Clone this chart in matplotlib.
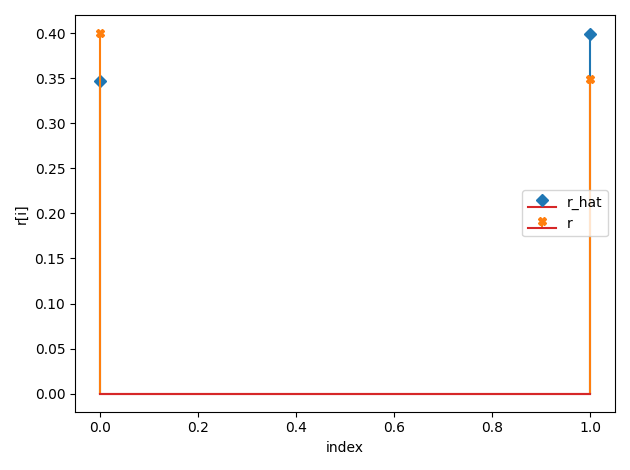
import matplotlib
matplotlib.use("Agg")
import matplotlib.pyplot as plt

index = [0, 1]
r_hat = [0.347, 0.399]
r = [0.400, 0.349]

fig, ax = plt.subplots(figsize=(6.3, 4.7), dpi=100)
m1, s1, b1 = ax.stem(index, r_hat, linefmt='C0-', markerfmt='D', basefmt='C3-', label='r_hat')
m2, s2, b2 = ax.stem(index, r, linefmt='C1-', markerfmt='X', basefmt='C3-', label='r')
m1.set_color('C0'); m2.set_color('C1')
ax.set_xlabel('index')
ax.set_ylabel('r[i]')
ax.legend(loc='center right')
fig.tight_layout()
fig.savefig('out.png')
